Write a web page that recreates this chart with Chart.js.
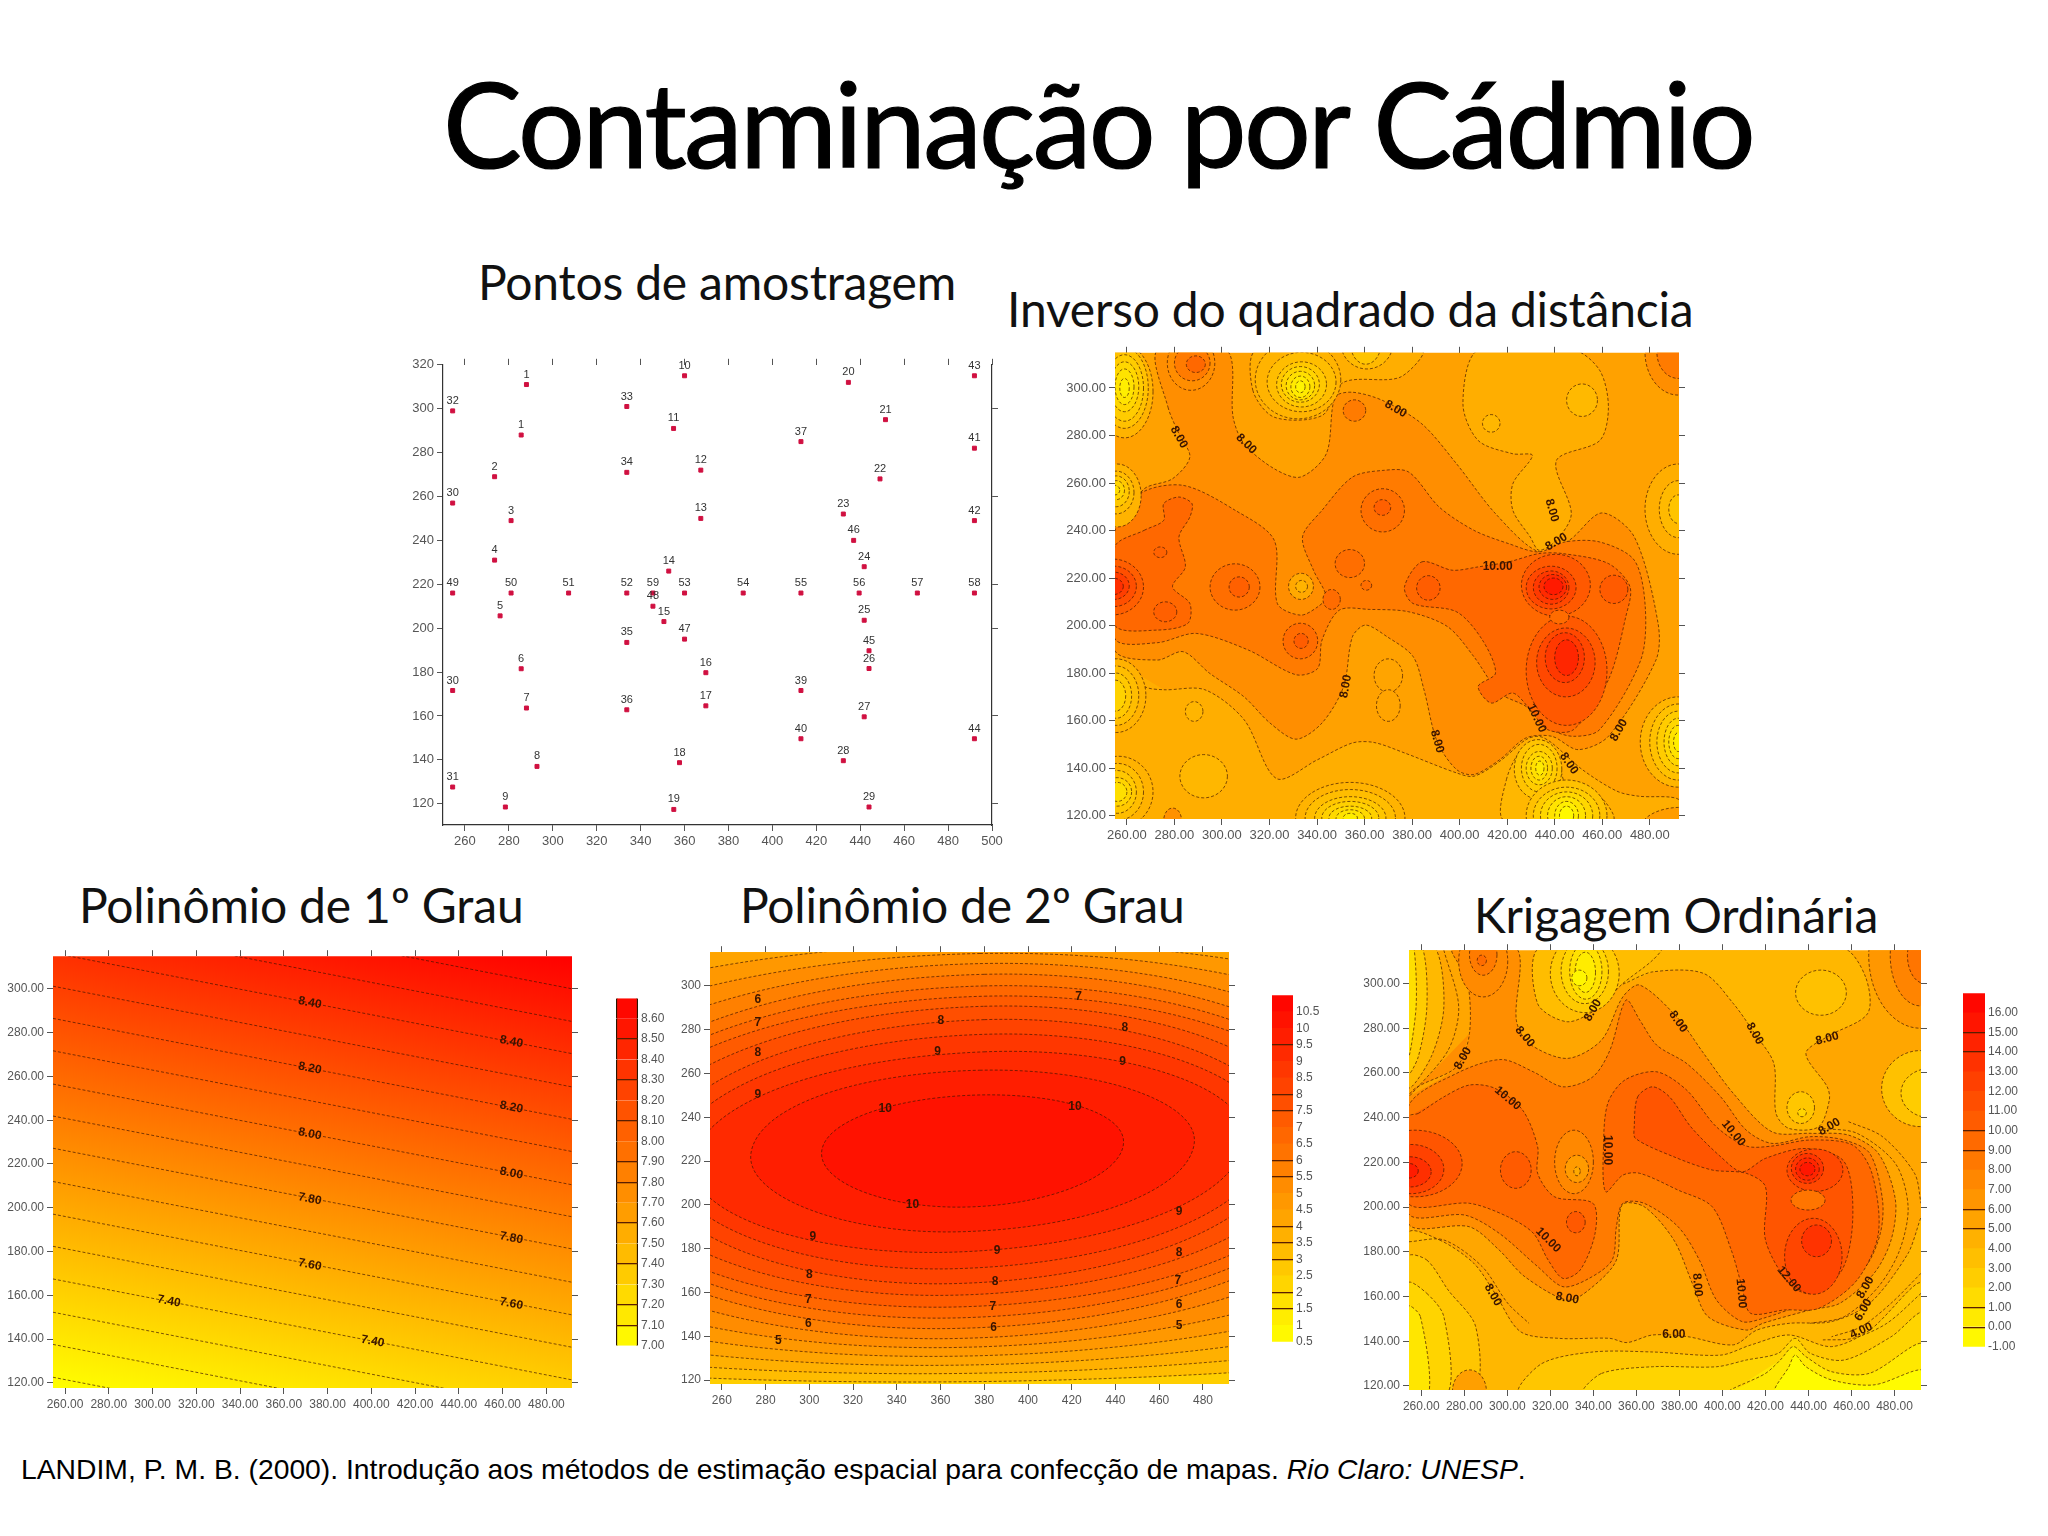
<!DOCTYPE html>
<html lang="pt">
<head>
<meta charset="utf-8">
<title>Contaminação por Cádmio</title>
<script src="https://cdn.jsdelivr.net/npm/chart.js@4"></script>
<style>
  html, body { margin: 0; background: #fff; }
  body { position: relative; width: 2048px; height: 1536px; overflow: hidden; }
  canvas { position: absolute; filter: blur(0.6px); }
  .txt { position: absolute; white-space: nowrap; line-height: 1; color: #000; font-family: Lato, sans-serif; }
  .sub { font-size: 48px; letter-spacing: -0.2px; color: #111; }
</style>
</head>
<body>
<div class="txt" style="left:443px;top:64px;font-size:118px;letter-spacing:-2.7px;-webkit-text-stroke:1.2px #000">Contaminação por Cádmio</div>
<div class="txt sub" style="left:478px;top:258px">Pontos de amostragem</div>
<div class="txt sub" style="left:1007px;top:285px">Inverso do quadrado da distância</div>
<div class="txt sub" style="left:79px;top:881px">Polinômio de 1º Grau</div>
<div class="txt sub" style="left:740px;top:881px">Polinômio de 2º Grau</div>
<div class="txt sub" style="left:1474px;top:891px">Krigagem Ordinária</div>
<div class="txt" style="left:21px;top:1455px;font-size:28.3px;font-family:'Liberation Sans'">LANDIM, P. M. B. (2000). Introdução aos métodos de estimação espacial para confecção de mapas. <i>Rio Claro: UNESP</i>.</div>

<canvas id="pontos"></canvas>
<canvas id="idw"></canvas>
<canvas id="poli1"></canvas>
<canvas id="poli2"></canvas>
<canvas id="krig"></canvas>
<canvas id="legPoli1"></canvas>
<canvas id="legPoli2"></canvas>
<canvas id="legKrig"></canvas>

<script>
// Ticks
const ticks260 = [260, 280, 300, 320, 340, 360, 380, 400, 420, 440, 460, 480];
const ticks260to500 = [260, 280, 300, 320, 340, 360, 380, 400, 420, 440, 460, 480, 500];
const ticks120 = [120, 140, 160, 180, 200, 220, 240, 260, 280, 300];
const ticks120to320 = [120, 140, 160, 180, 200, 220, 240, 260, 280, 300, 320];
const ticksRightPontos = [120, 160, 200, 220, 260, 300];

// Sampling points
const pointLabels = ['1','10','20','43','32','33','21','11','1','37','41','2','34','12','22','30','3','13','23','42','46','4','24','14','49','50','51','52','59','53','54','55','56','57','58','48','5','15','25','47','35','45','26','6','16','30','39','7','36','17','27','40','44','28','18','8','31','9','19','29'];
const pointX = [288,360,434.6,492,254.4,333.7,451.5,355,285.6,413,492,273.5,333.7,367.4,449,254.4,281,367.4,432.3,492,437,273.5,441.8,352.8,254.4,281,307.2,333.7,345.6,360,386.7,413,439.5,466,492,345.6,276,350.6,441.8,360,333.7,444,444,285.6,369.7,254.4,413,288,333.7,369.7,441.8,413,492,432.3,357.7,292.8,254.4,278.4,355.1,444];
const pointY = [311,315,312,315,299,301,295,291,288,285,282,269,271,272,268,257,249,250,252,249,240,231,228,226,216,216,216,216,216,216,216,216,216,216,216,210,205.6,203,203.6,195,193.5,189.7,181.6,181.5,179.7,171.6,171.6,163.6,162.8,164.6,159.6,149.6,149.6,139.6,138.7,137,127.6,118.5,117.4,118.5];

// Inverso do quadrado: closed contours as x,y pairs
const idwLakeLow = [254.9,185.5, 267.3,174.4, 275.5,173, 292.8,173, 309.3,160.4, 323,135.6, 340.3,143.6, 354.9,150.6, 364,150.8, 376.8,146.4, 398.7,138, 406,136.6, 416.9,142.9, 427.9,152, 433.4,153.4, 438.8,150.6, 451.6,139.4, 466.2,130.3, 475.3,128.2, 492.3,126.8, 492.3,118, 254.9,118];
const idwLakeTop = [314.7,316, 313,299, 322,287.7, 342.1,288.4, 351.2,302.4, 374.9,304.5, 384.1,316];
const idwLakeRight = [407.8,316, 401.4,293.3, 407.8,277.9, 422.4,272.3, 430.6,271.6, 422.4,259.7, 422.4,248.5, 429.7,237.3, 433.4,231.7, 440.7,235.9, 447,247.1, 440.7,269.4, 459,277.9, 462.6,291.9, 459,307.3, 448,316];
const idwLakeBottom = [418.8,118, 419.7,135.2, 426.1,147.8, 435.2,151.3, 440.7,146.4, 445.2,132.4, 458.9,128.2, 464.4,118];
const idwLevel8 = [272.8,316, 277.3,291.9, 281.9,280.7, 286.5,270.9, 279.2,261.8, 267.3,257.6, 260.9,247.1, 254.9,238.7, 254.9,189.7, 272.8,185.5, 283.7,189, 294.7,180, 309.3,170, 320.2,159, 331.2,152.2, 342.1,159, 351.2,174.4, 354.9,195.3, 360.4,200.2, 369.5,195.3, 380.4,187, 385,173, 390.5,151.3, 398.7,139.4, 406,137.3, 416.9,143.6, 427.9,152.7, 438.8,153.4, 449.8,147.8, 462.6,153.4, 482.6,185.5, 483.5,200.9, 473.5,237.3, 459.8,247.4, 446.1,235.9, 433.4,231, 415.1,247.1, 398.7,268.1, 384.1,284.9, 367.7,294.7, 354.9,298.2, 347.6,296.1, 343.9,272.3, 333,262.5, 322,266, 309.3,276.5, 304.7,287.7, 302,316];
const idwLevel9 = [254.9,239.4, 265.5,255.5, 283.7,259, 305.6,248.5, 322,235.9, 323.3,209.3, 333,204.4, 340.3,207.9, 343.9,212.1, 338.5,223.3, 333.9,237.3, 342.1,248.5, 354.9,262.5, 367.7,265.3, 378.6,264.6, 391.4,249.9, 406,240.1, 420.6,234.5, 433.4,231, 444.3,235.2, 458.9,235.2, 473.5,227.5, 478.1,207.9, 476.2,185.5, 458.9,156.2, 447.9,153.4, 438.8,156.2, 427.9,166, 416.9,171.6, 406,186.9, 395,199.5, 378.6,205.8, 362.2,206.8, 349.4,206.5, 342.1,193.9, 340.3,182, 331.2,179.3, 311.1,189.7, 289.2,196.7, 272.8,192.8, 254.9,194.6];
const idwLevel10Right = [376.8,216.3, 384.1,226.8, 396.9,223.3, 407.8,224.7, 420.6,226.8, 433.4,230.3, 443.4,230.3, 462.6,226.1, 471.7,216.3, 469.9,203.7, 462.6,177.2, 447.9,156.2, 437,156.2, 429.7,164.6, 422.4,171.6, 413.3,167.4, 407.8,174.4, 415.1,180, 409.6,193.9, 398.7,205.8, 380.4,209.3];
const idwLevel10Left = [254.9,233.1, 267.3,240.1, 275.5,244.3, 275.5,251.3, 281.9,254.1, 287.4,251.3, 286.5,245.7, 281.9,237.3, 284.6,224.7, 279.2,216.3, 286.5,209.3, 285.6,200.9, 272.8,198.1, 254.9,200.2];
const idwRings = [[6.8, idwLakeLow], [6.8, idwLakeTop], [6.8, idwLakeRight], [6.3, idwLakeBottom], [8.5, idwLevel8], [9.5, idwLevel9], [10.5, idwLevel10Right], [10.5, idwLevel10Left]];
// closed blobs: z, x left, x right, y bottom, y top
const idwBlobs = [
  [6.5,247,271,279,318],[5.8,249,269,283,317],[5.2,251,267,286,314],[4.6,253,265,290,311],[4,255,263,293,308],[3.4,257,261,296,304],
  [6.5,246,266,241.5,268],[6,248,263,247,265],[5.4,250,261,250,263],[4.8,252,259,253,261],[4.3,253,257,255,259],
  [8.5,277,297,299,322],[9.5,280,295,303,318],[10.5,285,293,306.5,313.5],
  [6.5,314,350,287,320],[6,319,348,290,315],[5.4,323,344,292,311],[4.8,325,341,294,309],[4.2,327,339,295,307],[3.6,329,337,296,305],[3.1,331,335,298,303],
  [6.2,350,372,308,330],[5.6,354,367,310,328],
  [9.5,351,360.5,286,295],
  [8.5,478,506,297,333],[9.5,483,501,304,326],
  [6.3,409.6,417,281.4,288.8],[6.2,445,458,288,301.7],
  [6.8,478,506,230,268],[6.2,484,500,237,261],[5.6,488,496,243,255],
  [6.6,243,268,155,186],[6,246,265,158,183],[5.4,249,262,161,180],[4.9,251,259.5,164,177],
  [6.4,284.6,292,159.7,168],[6.3,282.3,302.3,127.5,145.7],
  [6.6,242,271,115,145],[6,245,267,118,142],[5.4,248,264,121,139],[4.8,250,262,124,136],[4.2,252,260,126,134],
  [8.3,275.5,283,113,123.2],
  [6.5,331,377,104,134],[6,335,373,107,131],[5.5,339,369,110,128],[5,342,366,112,126],[4.5,345,363,114,124],[4,348,360,115,122.5],[3.4,351,357,117,121],
  [7.3,364,376,172,186],[7.3,365,375,159.7,173],
  [5.7,423,443,127,152],[5.2,426,441,130,150],[4.7,428,439,133,147],[4.2,430,437,135,145],[3.6,432,435.5,137,143],
  [5.8,428,462,105,135],[5.2,431,459,108,132],[4.6,434,456,110,130],[4,437,453,112,128],[3.4,440,450,114,126],[2.8,442,448,116,124],
  [6.4,476,508,132,170],[5.8,480,504,135,167],[5.2,483,501,138,164],[4.6,486,498,141,161],[4,488,496,144,158],[3.4,490,494,147,155],
  [7.7,476,510,105,123.5],
  [7.1,328,338.5,211,222],[6.5,331,336,214,219],
  [10.8,271.3,276.8,228.6,233.1],
  [10.2,295,316,206.5,226],[10.9,303,311.5,212,220.5],
  [11,241,267,204.5,228],[11.8,245,264,208,225],[12.7,248,261,211,222.5],[13.5,250,258.5,213,220],
  [10.9,271.3,281,201.6,210],
  [10.3,325.7,340.3,186,201],[11.1,330.3,336.3,190.4,196.7],
  [10.3,342.5,349.8,206.8,215.2],[10.2,347.6,360,220.2,232],[10.2,358.5,363,214.9,219],
  [10.1,358.5,376.8,239.4,257.6],[10.9,364,371,246.4,253],
  [11.1,381.9,391.8,210.7,221],
  [11.3,426,455,204,230],[12.2,428,449,207,225],[13,431,446,209,223],[13.8,433.4,445,211,221.5],[14.6,435.5,443.5,213,220],
  [11.2,459,470.8,209.3,221.2],
  [11.3,428,462,158,204],[10.3,437.9,446,200.7,206.5],[12.2,432.4,457,170,199],[13,436,452.5,176,197],[14,440,450,179,194]
];
const idwText = [['8.00',281.9,279.3,60],['8.00',310.2,276.5,45],['8.00',373.1,291.2,30],['8.00',438.8,248.5,75],['8.00',440.7,235.2,-30],['10.00',416,224.7,0],['8.00',352.1,174.4,-80],['8.00',390.5,151.3,75],['10.00',432.4,161,65],['8.00',467,156,-60],['8.00',446,142,55]];

// Polinômio de 1º grau: straight contours, y at x left and x right
const poli1LineX = [254.5, 491.7];
const poli1LineY = [[346,300],[331.2,285.1],[316.4,270.4],[301.2,255.2],[286.5,240.4],[271.7,225.7],[256.5,210.5],[241.9,195.9],[227.2,181.2],[212,166],[197.1,151.1],[182.4,136.3],[167.5,121.4],[152.3,106.2],[137.6,91.5],[122.6,76.6]];
const poli1Text = [['8.40',371.9,293.6,11],['8.40',464,275.8,11],['8.20',371.9,263.7,11],['8.20',464,245.9,11],['8.00',371.9,233.7,11],['8.00',464,215.8,11],['7.80',371.9,204,11],['7.80',464,186.2,11],['7.60',371.9,174,11],['7.60',464,156.2,11],['7.40',307.5,157.3,11],['7.40',400.6,139,11]];

// Polinômio de 2º grau: z, left x,y, top x,y, right x,y, bottom x,y
const poli2Rings = [
  [3,-135,220,374,334.6,881,229,368,119.2],
  [3.5,-36,220,374,330,782,229,368,123],
  [4,43,220,374,324.7,703,229,368,126.8],
  [4.5,95.6,220,376,319.6,650.4,229,368,130.9],
  [5,135.2,220,378,314.8,610.8,229,368,134.9],
  [5.5,166.9,220,378,310.2,579,229,368,139],
  [6,184.7,220,380,305.3,561.2,229,368,143.6],
  [6.5,192.6,220,380,300,553.3,229,368,148.4],
  [7,200.5,220,380,295.3,545.4,229,368,153.4],
  [7.5,214.4,220,380,290.7,531.6,229,368,158.8],
  [8,228.1,220,380,284.6,518.7,229,368,164.1],
  [8.5,237.2,220.4,380,277.9,510.7,229,368,170.9],
  [9,246.7,219.6,379.9,269.9,499.2,229.5,368,178.5],
  [9.5,273.3,223.4,377.9,261.5,476,228,368,187.7],
  [10,305.6,223.4,374.4,250.1,443.7,228.8,374.4,199.1]
];
const poli2Text = [['6',276.5,293.8,0],['7',276.5,283.1,0],['8',276.5,269.4,0],['9',276.5,250.1,0],['10',334.7,244,0],['10',421.5,245,0],['10',347.2,200.2,0],['9',358.7,269.9,0],['8',360.1,283.9,0],['7',423.1,295,0],['8',444.3,281,0],['9',443.3,265.3,0],['9',301.6,185.4,0],['9',469.1,196.8,0],['9',385.9,179,0],['8',469.1,178.2,0],['8',300,168.3,0],['8',384.9,164.8,0],['7',468.5,165.6,0],['7',299.6,156.8,0],['7',383.9,153.7,0],['6',469.1,154.2,0],['6',299.6,145.8,0],['6',384.3,144,0],['5',469.1,145,0],['5',285.8,138.2,0]];

// Krigagem
const krigLakeUpper = [371.5,316, 353.7,300, 367.5,305.2, 391.3,304.5, 405.1,291, 415,277.6, 423.9,264.2, 424.9,241.9, 430.9,235.2, 444.7,235.9, 449.7,247.9, 448.7,253.8, 438.8,268.7, 448.7,276.2, 467.5,286.6, 466.5,303, 455.6,316];
const krigLeft1 = [254,316, 266.5,316, 270.5,289.6, 264.6,267.2, 254,253.8];
const krigLeft2 = [254,316, 260.6,316, 262.6,289.6, 258.6,267.2, 254,259.8];
const krigLeft3 = [254,316, 256.6,316, 257.6,289.6, 254,267.2];
const krigTopYellow = [315,316, 314.1,291, 327.9,282.9, 341.8,288.8, 353.7,300, 367.5,310.4, 371.5,316];
const krigLow63 = [254,188.3, 268.5,185.3, 284.4,174.9, 294.3,161.4, 306.1,144.3, 324,141.3, 347.7,141.3, 355.6,139.4, 367.5,142.8, 383.4,142.1, 405.1,138.4, 416,145, 430.9,148, 450.7,148.8, 468.5,157, 486.3,179.3, 493,195.7, 493,117, 254,117];
const krigLow55a = [254,177.8, 262.6,176.3, 272.5,162.9, 285.3,146.5, 284.4,117, 254,117];
const krigLow55b = [306.1,117, 316,130, 339.8,135.2, 367.5,135.2, 399.2,133.8, 413.1,138.3, 430.9,142.8, 450.7,137.6, 468.5,145, 493,165.9, 493,117];
const krigLow48a = [254,165.9, 262.6,161.4, 270.5,151, 272.5,117, 254,117];
const krigLow48b = [335.8,117, 343.8,125.6, 367.5,128.6, 397.2,128.6, 411.1,131.6, 425.9,134.6, 433.8,141.3, 440.8,134.6, 456.6,131.6, 478.4,142, 493,152.5, 493,117];
const krigLow37 = [403.2,117, 420,125.6, 426.9,131.6, 432.9,137.6, 438.8,133.1, 450.7,126.4, 468.5,125.7, 493,139, 493,117];
const krigLow27 = [424.9,117, 430.9,128.6, 433.8,133.8, 438.8,128.6, 450.7,122.7, 470.5,120.5, 493,127.2, 493,117];
const krigLow38 = [254,155.5, 259.6,151, 263.6,117, 254,117];
const krigLevel8 = [254,249.3, 276.4,262.7, 282.4,277.6, 281.4,301.5, 274.5,316, 304.2,316, 304.2,283.6, 310.1,273.2, 327.9,266.5, 343.8,274.7, 353.7,294, 361.6,299.3, 379.4,284.4, 391.3,268.7, 405.1,250.8, 423,233.7, 440.8,233, 458.6,232.2, 472.5,224, 480.4,203.2, 478.4,185.3, 470.5,170.4, 454.6,157, 440.8,154, 419,148.1, 411.1,145, 393.3,151, 386.3,165.2, 377.4,185.3, 363.6,200.2, 353.3,200.9, 350.7,176.3, 337.8,162.9, 327.9,158.4, 308.1,168.9, 296.2,180.8, 282.4,191.2, 254,192.7];
const krigLevel9 = [254,244.9, 276.4,259.8, 297.2,266, 312.1,260.5, 325.9,253.8, 339.8,258.3, 347.7,270.2, 355.2,292.6, 361.6,283.6, 369.5,272.4, 383.4,264.2, 399.2,249.3, 411.1,234.4, 423,228.5, 440.8,231.5, 456.6,230, 468.5,224, 474.4,203.2, 473.4,188.3, 466.5,173.4, 450.7,162.2, 438.8,157, 419,150.3, 409.1,148.8, 397.2,158.5, 389.3,176.3, 379.4,191.2, 363.6,201.7, 353.7,201.7, 350.7,191.2, 348.7,176.3, 337.8,168, 325.9,164.4, 314.1,173.4, 296.2,188.3, 280.4,196.4, 254,197.2];
const krigLevel10Left = [254,240.4, 258.6,241.9, 270.5,249.3, 282.4,254.6, 294.3,253.1, 307.1,243.4, 314.1,227, 314.1,215.1, 322,204.6, 339.8,201.7, 340.8,188.3, 333.9,171.9, 325.9,168.1, 319,176.3, 312.1,188.3, 300.2,195.7, 282.4,201.7, 254,201.7];
const krigLevel10Right = [345.7,206.9, 344.7,227, 346.7,246.4, 354.6,256.8, 369.5,260.5, 383.4,252.3, 397.2,235.9, 411.1,227.3, 423,227.3, 440.8,230, 460.6,227.7, 469.5,215.1, 472.5,188.3, 462.6,167.4, 444.7,154.7, 428.9,154, 413.1,152.5, 409.1,164.4, 404.1,180.8, 395.2,200.2, 379.4,207.6, 361.6,215.1, 353.7,214.3];
const krigLevel11 = [359,235.9, 360.6,249.3, 367.5,253.8, 375.4,249.3, 385.3,235.9, 399.2,222.5, 409.1,215.8, 420,221.8, 438.8,226.2, 456.6,220.3, 460.6,195.7, 455.6,171.9, 440.8,161.4, 430.9,165.9, 420,185.3, 420,209.1, 411.1,215.1, 395.2,216.6, 377.4,222.5, 359.6,230.7];
const krigRings = [[6.3, krigLakeUpper], [6.2, krigLeft1], [5.2, krigLeft2], [4.2, krigLeft3], [6, krigTopYellow], [6.3, krigLow63], [5.5, krigLow55a], [5.5, krigLow55b], [4.8, krigLow48a], [4.8, krigLow48b], [3.7, krigLow37], [2.7, krigLow27], [3.8, krigLow38], [8.5, krigLevel8], [9.5, krigLevel9], [10.5, krigLevel10Left], [10.5, krigLevel10Right], [11.5, krigLevel11]];
const krigBlobs = [
  [5.8,434,457.6,285.8,306],[5.5,430,442.8,237.4,251.6],[4.7,435,439,240.4,244],
  [5.8,474,510,236,270],[5.2,483,510,240,262],
  [8,468,516,280,345],[9,478,506,290,335],[9.8,486,502,300,325],
  [5.3,320,352,287,322],[4.7,325,347,291,320],[4.1,329,344,293,318],[3.5,331.5,341,296,314],[3,330,337,299,306],
  [8.7,277.4,300.2,294,326],[9.5,282.4,295.2,303.7,322],[10.3,286,290.3,308,312.7],
  [7.6,274.5,290.3,108,127.2],
  [11.5,235,279,204.6,234.4],[12.5,240,270.5,206,228],[13.5,245,264.6,209,222.5],[14.5,250,258.6,213,219.5],
  [11.2,296.8,311.1,208.4,224.8],
  [8.8,322,340,206,234.4],[7.8,326.9,337.8,211,223.2],[7,330.9,333.9,214,218],
  [11.3,327.5,336.2,188.5,198],
  [12.2,430,456,207,226],[13.2,432,447,210.6,224],[14,434,445,212,222],[14.8,436,443,214,220],
  [9.8,431.9,447.7,198.7,207.6],
  [12.3,428.9,455.6,161,195],[13.3,436.8,450.7,177.8,192]
];
// open contour lines of the dense flanks
const krigOpenA = [446.7,235.2, 462.6,233, 480.4,219.5, 486.3,200.2, 482.4,180.8, 472.5,164.4, 456.6,151, 440.8,148];
const krigOpenB = [458.6,238.2, 474.4,231.5, 489.3,215.1, 492.3,201.7];
const krigOpenC = [492.3,170.4, 478.4,157, 464.5,146.5, 450.7,142];
const krigOpenD = [492.3,161.4, 476.4,148, 460.6,141.3, 446.7,140.6];
const krigOpenE = [254.3,184.5, 270.5,185.3, 288.3,173.4, 300.2,157, 310.1,148];
const krigOpenG = [270.5,314.9, 277.4,289.6, 272.5,270.2, 254.3,249.3];
const krigOpen = [krigOpenA, krigOpenB, krigOpenC, krigOpenD, krigOpenE, krigOpenG];
const krigText = [['8.00',279.4,266.5,-60],['8.00',308.1,276.2,50],['8.00',339.8,288,-60],['8.00',379.4,282.9,55],['8.00',415,277.6,60],['8.00',448.7,275.4,-15],['10.00',300.2,248.6,40],['10.00',405.1,233,50],['10.00',346.7,225.5,90],['10.00',319,185.3,45],['8.00',293.3,160.7,60],['8.00',327.9,159.2,10],['8.00',388.3,165.2,85],['10.00',408.7,161.4,85],['12.00',430.9,167.7,50],['8.00',466.5,164,-60],['6.00',465.5,154,-60],['4.00',464.5,144.7,-25],['8.00',449.7,235.9,-30],['6.00',377.4,142.8,0]];

// Colour scales
const legPoli1Levels = [7, 7.1, 7.2, 7.3, 7.4, 7.5, 7.6, 7.7, 7.8, 7.9, 8, 8.1, 8.2, 8.3, 8.4, 8.5, 8.6, 8.7];
const legPoli1Labels = [7, 7.1, 7.2, 7.3, 7.4, 7.5, 7.6, 7.7, 7.8, 7.9, 8, 8.1, 8.2, 8.3, 8.4, 8.5, 8.6];
const legPoli1Lines = [7.1, 7.2, 7.4, 7.6, 7.8, 7.9, 8.1, 8.3, 8.5];
const legPoli2Levels = [0.5, 1, 1.5, 2, 2.5, 3, 3.5, 4, 4.5, 5, 5.5, 6, 6.5, 7, 7.5, 8, 8.5, 9, 9.5, 10, 10.5, 11];
const legPoli2Labels = [0.5, 1, 1.5, 2, 2.5, 3, 3.5, 4, 4.5, 5, 5.5, 6, 6.5, 7, 7.5, 8, 8.5, 9, 9.5, 10, 10.5];
const legPoli2Lines = [1.5, 2, 3, 3.5, 4, 5.5, 6, 7.5, 8, 9.5];
const legKrigLevels = [-1, 0, 1, 2, 3, 4, 5, 6, 7, 8, 9, 10, 11, 12, 13, 14, 15, 16, 17];
const legKrigLabels = [-1, 0, 1, 2, 3, 4, 5, 6, 7, 8, 9, 10, 11, 12, 13, 14, 15, 16];
const legKrigLines = [0, 1, 5, 6, 9, 10, 14, 15];

Chart.defaults.font.family = "'Liberation Sans', Arial, sans-serif";
Chart.defaults.animation = false;

const LINE = 'rgba(60,20,0,0.75)';
const TICK = '#555';

// yellow to red, the colours of the map legend
function ramp(z, lo, hi) {
  const t = Math.min(1, Math.max(0, (z - lo) / (hi - lo)));
  return 'rgb(255,' + Math.round(255 * (1 - t)) + ',0)';
}
const mapColor = z => ramp(z, 2.5, 16);

function pairs(flat) {
  const out = [];
  for (let i = 0; i < flat.length; i += 2) out.push({ x: flat[i], y: flat[i + 1] });
  return out;
}

function fillOnly(points, color, tension) {
  return {
    data: points, showLine: true, fill: 'shape', backgroundColor: color,
    borderColor: 'transparent', borderWidth: 0, pointRadius: 0, tension: tension, capBezierPoints: false
  };
}

function plainLine(points, tension) {
  return {
    data: points, showLine: true, fill: false, borderColor: LINE, borderWidth: 0.9, borderDash: [3, 2],
    pointRadius: 0, tension: tension || 0, capBezierPoints: false
  };
}

// closed contour: the path runs over its start so the curve closes smoothly,
// the first and last spans are only there for that and stay unstroked
function closedContour(p, color, tension) {
  const wrapped = p.concat([p[0], p[1], p[2]]);
  const last = wrapped.length - 1;
  const stroke = plainLine(wrapped, tension);
  stroke.segment = {
    borderColor: c => (c.p0DataIndex === 0 || c.p1DataIndex === last) ? 'transparent' : undefined
  };
  return [fillOnly(wrapped, color, tension), stroke];
}

function ringSet(rings) {
  return rings.flatMap(([z, flat]) => closedContour(pairs(flat), mapColor(z), 0.3));
}

function blobSet(blobs) {
  return blobs.flatMap(([z, xl, xr, yb, yt]) => {
    const xc = (xl + xr) / 2, yc = (yb + yt) / 2;
    return closedContour([{ x: xc, y: yt }, { x: xr, y: yc }, { x: xc, y: yb }, { x: xl, y: yc }], mapColor(z), 0.55);
  });
}

// text tied to data coordinates, goes through the scales
const mapText = {
  id: 'mapText',
  afterDatasetsDraw(chart, args, opts) {
    const ctx = chart.ctx;
    ctx.save();
    ctx.font = opts.font;
    ctx.fillStyle = opts.color;
    ctx.textAlign = 'center';
    ctx.textBaseline = 'middle';
    (opts.items || []).forEach(([txt, x, y, rot]) => {
      ctx.save();
      ctx.translate(chart.scales.x.getPixelForValue(x), chart.scales.y.getPixelForValue(y) - (opts.lift || 0));
      ctx.rotate((rot || 0) * Math.PI / 180);
      ctx.fillText(txt, 0, 0);
      ctx.restore();
    });
    ctx.restore();
  }
};
Chart.register(mapText);

function mapChart(id, box, cfg) {
  const m = cfg.margin;
  const cv = document.getElementById(id);
  cv.width = box.r - box.l + m.l + m.r;
  cv.height = box.b - box.t + m.t + m.b;
  cv.style.left = (box.l - m.l) + 'px';
  cv.style.top = (box.t - m.t) + 'px';
  const labelFont = { size: cfg.fontSize };
  const axis = (pos, range, list, show, fmt) => ({
    type: 'linear', position: pos, min: range[0], max: range[1],
    afterBuildTicks(s) { s.ticks = list.map(v => ({ value: v })); },
    afterFit(s) {
      if (pos === 'left') s.width = m.l;
      if (pos === 'right') s.width = m.r;
      if (pos === 'top') s.height = m.t;
      if (pos === 'bottom') s.height = m.b;
    },
    ticks: { display: show, maxRotation: 0, autoSkip: false, font: labelFont, color: TICK, padding: cfg.tickPad, callback: fmt },
    grid: { drawOnChartArea: false, tickLength: 6, color: TICK },
    border: { display: cfg.spine === true && pos !== 'top', color: '#333', width: 1.2 }
  });
  new Chart(cv, {
    type: 'scatter',
    data: { datasets: cfg.paint.slice().reverse() },
    options: {
      responsive: false,
      layout: { padding: 0 },
      plugins: {
        legend: { display: false }, tooltip: { enabled: false },
        mapText: { items: cfg.text, font: cfg.textFont, color: cfg.textColor, lift: cfg.lift }
      },
      scales: {
        x: axis('bottom', cfg.xRange, cfg.xTicks, true, cfg.xFmt),
        x2: axis('top', cfg.xRange, cfg.xTicks, false),
        y: axis('left', cfg.yRange, cfg.yTicks, true, cfg.yFmt),
        y2: axis('right', cfg.yRange, cfg.yRight || cfg.yTicks, false)
      }
    }
  });
}

const two = v => Number(v).toFixed(2);
const plain = v => String(v);

// gradient across the straight contours of the first degree surface
function poli1Gradient(ctx) {
  const c = ctx.chart, a = c.chartArea;
  if (!a) return '#ff8000';
  const sx = c.scales.x, sy = c.scales.y;
  const s = (sy.getPixelForValue(poli1LineY[6][1]) - sy.getPixelForValue(poli1LineY[6][0])) /
            (sx.getPixelForValue(poli1LineX[1]) - sx.getPixelForValue(poli1LineX[0]));
  const k = (a.bottom - a.top + s * (a.right - a.left)) / (1 + s * s);
  const g = c.ctx.createLinearGradient(a.left, a.bottom, a.left + k * s, a.bottom - k);
  g.addColorStop(0, '#ffff00');
  g.addColorStop(1, '#ff0000');
  return g;
}

const fullRect = pairs([250,110, 500,110, 500,320, 250,320, 250,110]);

// Pontos de amostragem
mapChart('pontos', { l: 443, r: 992, t: 364, b: 825 }, {
  margin: { l: 40, r: 30, t: 10, b: 30 }, fontSize: 13, tickPad: 3, spine: true,
  xRange: [250, 500], yRange: [110.3, 320], xTicks: ticks260to500, yTicks: ticks120to320, yRight: ticksRightPontos,
  paint: [{
    data: pointX.map((x, i) => ({ x: x, y: pointY[i] })), showLine: false,
    pointRadius: 2.8, pointStyle: 'rect', backgroundColor: '#d01040', borderColor: '#d01040', clip: false
  }],
  text: pointLabels.map((t, i) => [t, pointX[i], pointY[i], 0]),
  textFont: "11px 'Liberation Sans'", textColor: '#333', lift: 10
});

// Inverso do quadrado da distância
mapChart('idw', { l: 1115, r: 1679, t: 352, b: 819 }, {
  margin: { l: 60, r: 30, t: 10, b: 30 }, fontSize: 13, tickPad: 3,
  xRange: [255, 492.3], yRange: [118.6, 314.8], xTicks: ticks260, yTicks: ticks120, xFmt: two, yFmt: two,
  paint: [fillOnly(fullRect, mapColor(7.5), 0)].concat(ringSet(idwRings), blobSet(idwBlobs)),
  text: idwText, textFont: "bold 12px 'Liberation Sans'", textColor: '#3a1400'
});

// Polinômio de 1º grau
mapChart('poli1', { l: 53, r: 572, t: 956, b: 1388 }, {
  margin: { l: 53, r: 30, t: 10, b: 30 }, fontSize: 12, tickPad: 3,
  xRange: [254.5, 491.7], yRange: [117.7, 314.9], xTicks: ticks260, yTicks: ticks120, xFmt: two, yFmt: two,
  paint: [fillOnly(fullRect, poli1Gradient, 0)].concat(poli1LineY.map(([a, b]) =>
    plainLine([{ x: poli1LineX[0], y: a }, { x: poli1LineX[1], y: b }]))),
  text: poli1Text, textFont: "bold 12px 'Liberation Sans'", textColor: '#3a1400'
});

// Polinômio de 2º grau
mapChart('poli2', { l: 710, r: 1229, t: 952, b: 1384 }, {
  margin: { l: 40, r: 30, t: 10, b: 30 }, fontSize: 12, tickPad: 3,
  xRange: [254.6, 491.9], yRange: [118.2, 315.4], xTicks: ticks260, yTicks: ticks120,
  paint: [fillOnly(fullRect, ramp(2.5, 0.5, 11), 0)].concat(poli2Rings.flatMap(r =>
    closedContour(pairs(r.slice(1)), ramp(r[0] + 0.25, 0.5, 11), 0.55))),
  text: poli2Text, textFont: "bold 12px 'Liberation Sans'", textColor: '#3a1400'
});

// Krigagem ordinária
mapChart('krig', { l: 1409, r: 1921, t: 950, b: 1390 }, {
  margin: { l: 60, r: 30, t: 10, b: 30 }, fontSize: 12, tickPad: 3,
  xRange: [254.3, 492.3], yRange: [118.2, 314.9], xTicks: ticks260, yTicks: ticks120, xFmt: two, yFmt: two,
  paint: [fillOnly(fullRect, mapColor(7.2), 0)].concat(ringSet(krigRings), krigOpen.map(l => plainLine(pairs(l), 0.3)), blobSet(krigBlobs)),
  text: krigText, textFont: "bold 12px 'Liberation Sans'", textColor: '#3a1400'
});

// colour bars
function legendChart(id, box, levels, labels, lines, fmt, sides) {
  const pad = 10, right = 46;
  const cv = document.getElementById(id);
  cv.width = box.r - box.l + right;
  cv.height = box.b - box.t + pad * 2;
  cv.style.left = box.l + 'px';
  cv.style.top = (box.t - pad) + 'px';
  const lo = levels[0], hi = levels[levels.length - 1];
  const segs = levels.slice(0, -1).map((v, i) => ({
    data: [[v, levels[i + 1]]], grouped: false, barPercentage: 1, categoryPercentage: 1,
    backgroundColor: ramp((v + levels[i + 1]) / 2, lo, hi),
    borderWidth: sides ? { left: 1.5, right: 1.5 } : 0, borderColor: '#2a1500', borderSkipped: false
  }));
  new Chart(cv, {
    type: 'bar',
    data: { labels: [''], datasets: segs },
    options: {
      responsive: false,
      layout: { padding: { top: pad, bottom: pad } },
      plugins: { legend: { display: false }, tooltip: { enabled: false } },
      scales: {
        x: { display: false },
        y: {
          position: 'right', min: lo, max: hi,
          afterBuildTicks(s) { s.ticks = labels.map(v => ({ value: v })); },
          afterFit(s) { s.width = right; },
          ticks: { autoSkip: false, font: { size: 12 }, color: TICK, padding: 3, callback: fmt },
          border: { display: false },
          grid: {
            z: 1, drawTicks: false, lineWidth: 1.3,
            color: c => lines.includes(c.tick.value) ? '#5a1e00' : 'transparent'
          }
        }
      }
    }
  });
}

legendChart('legPoli1', { l: 616, r: 638, t: 998, b: 1346 }, legPoli1Levels, legPoli1Labels, legPoli1Lines, two, true);
legendChart('legPoli2', { l: 1272, r: 1293, t: 995, b: 1342 }, legPoli2Levels, legPoli2Labels, legPoli2Lines, plain, false);
legendChart('legKrig', { l: 1963, r: 1985, t: 993, b: 1347 }, legKrigLevels, legKrigLabels, legKrigLines, two, false);
</script>
</body>
</html>
